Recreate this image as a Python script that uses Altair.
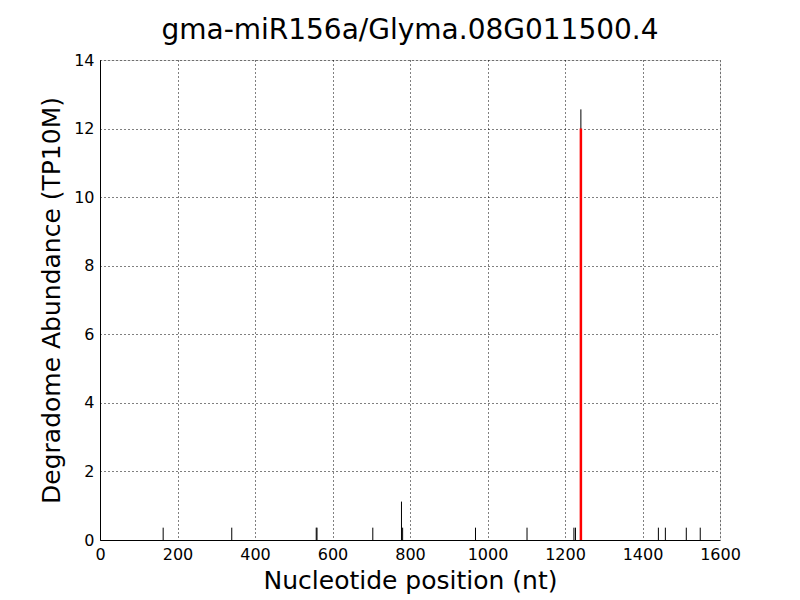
import altair as alt
import pandas as pd

positions = [163, 340, 558, 560, 704, 778, 781, 969, 1102, 1223, 1227, 1241, 1441, 1459, 1513, 1549]
abundance = [0.36, 0.36, 0.36, 0.36, 0.36, 1.12, 0.36, 0.36, 0.36, 0.36, 0.36, 12.56, 0.36, 0.36, 0.36, 0.36]
target_pos = [1241]
target_abund = [12.0]

df = pd.DataFrame({"pos": positions, "ab": abundance, "base": [0] * len(positions)})
dt = pd.DataFrame({"pos": target_pos, "ab": target_abund, "base": [0]})

xs = alt.Scale(domain=[0, 1600], nice=False, zero=False)
ys = alt.Scale(domain=[0, 14], nice=False)

font = "DejaVu Sans"

xaxis = alt.Axis(values=list(range(0, 1601, 200)), format="d", title="Nucleotide position (nt)",
                 titleFontSize=25, titleFont=font, titleFontWeight="normal", titleColor="black",
                 labelFontSize=16, labelFont=font, labelColor="black", labelPadding=6,
                 tickSize=0, domainColor="black", grid=True, gridColor="black",
                 gridDash=[1, 3], gridOpacity=1, titlePadding=6, labelFlush=False)
yaxis = alt.Axis(values=list(range(0, 15, 2)), format="d", title="Degradome Abundance (TP10M)",
                 titleFontSize=25, titleFont=font, titleFontWeight="normal", titleColor="black",
                 labelFontSize=16, labelFont=font, labelColor="black", labelPadding=6,
                 tickSize=0, domainColor="black", grid=True, gridColor="black",
                 gridDash=[1, 3], gridOpacity=1, titlePadding=9, labelFlush=False)

bars = alt.Chart(df).mark_rule(color="black", strokeWidth=1).encode(
    x=alt.X("pos:Q", scale=xs, axis=xaxis),
    y=alt.Y("base:Q", scale=ys, axis=yaxis),
    y2="ab:Q",
)
red = alt.Chart(dt).mark_rule(color="#ff0000", strokeWidth=2.5).encode(
    x=alt.X("pos:Q", scale=xs),
    y=alt.Y("base:Q", scale=ys),
    y2="ab:Q",
)

chart = alt.layer(bars, red).properties(
    width=620, height=480,
    title=alt.TitleParams("gma-miR156a/Glyma.08G011500.4", fontSize=28, font=font,
                          fontWeight="normal", color="black", offset=7),
    autosize=alt.AutoSizeParams(type="none"),
    padding={"left": 92, "top": 52, "right": 64, "bottom": 60},
).configure_view(stroke="black", strokeWidth=1).configure(background="white")

chart.save("out.html", embed_options={"renderer": "svg", "actions": False})
